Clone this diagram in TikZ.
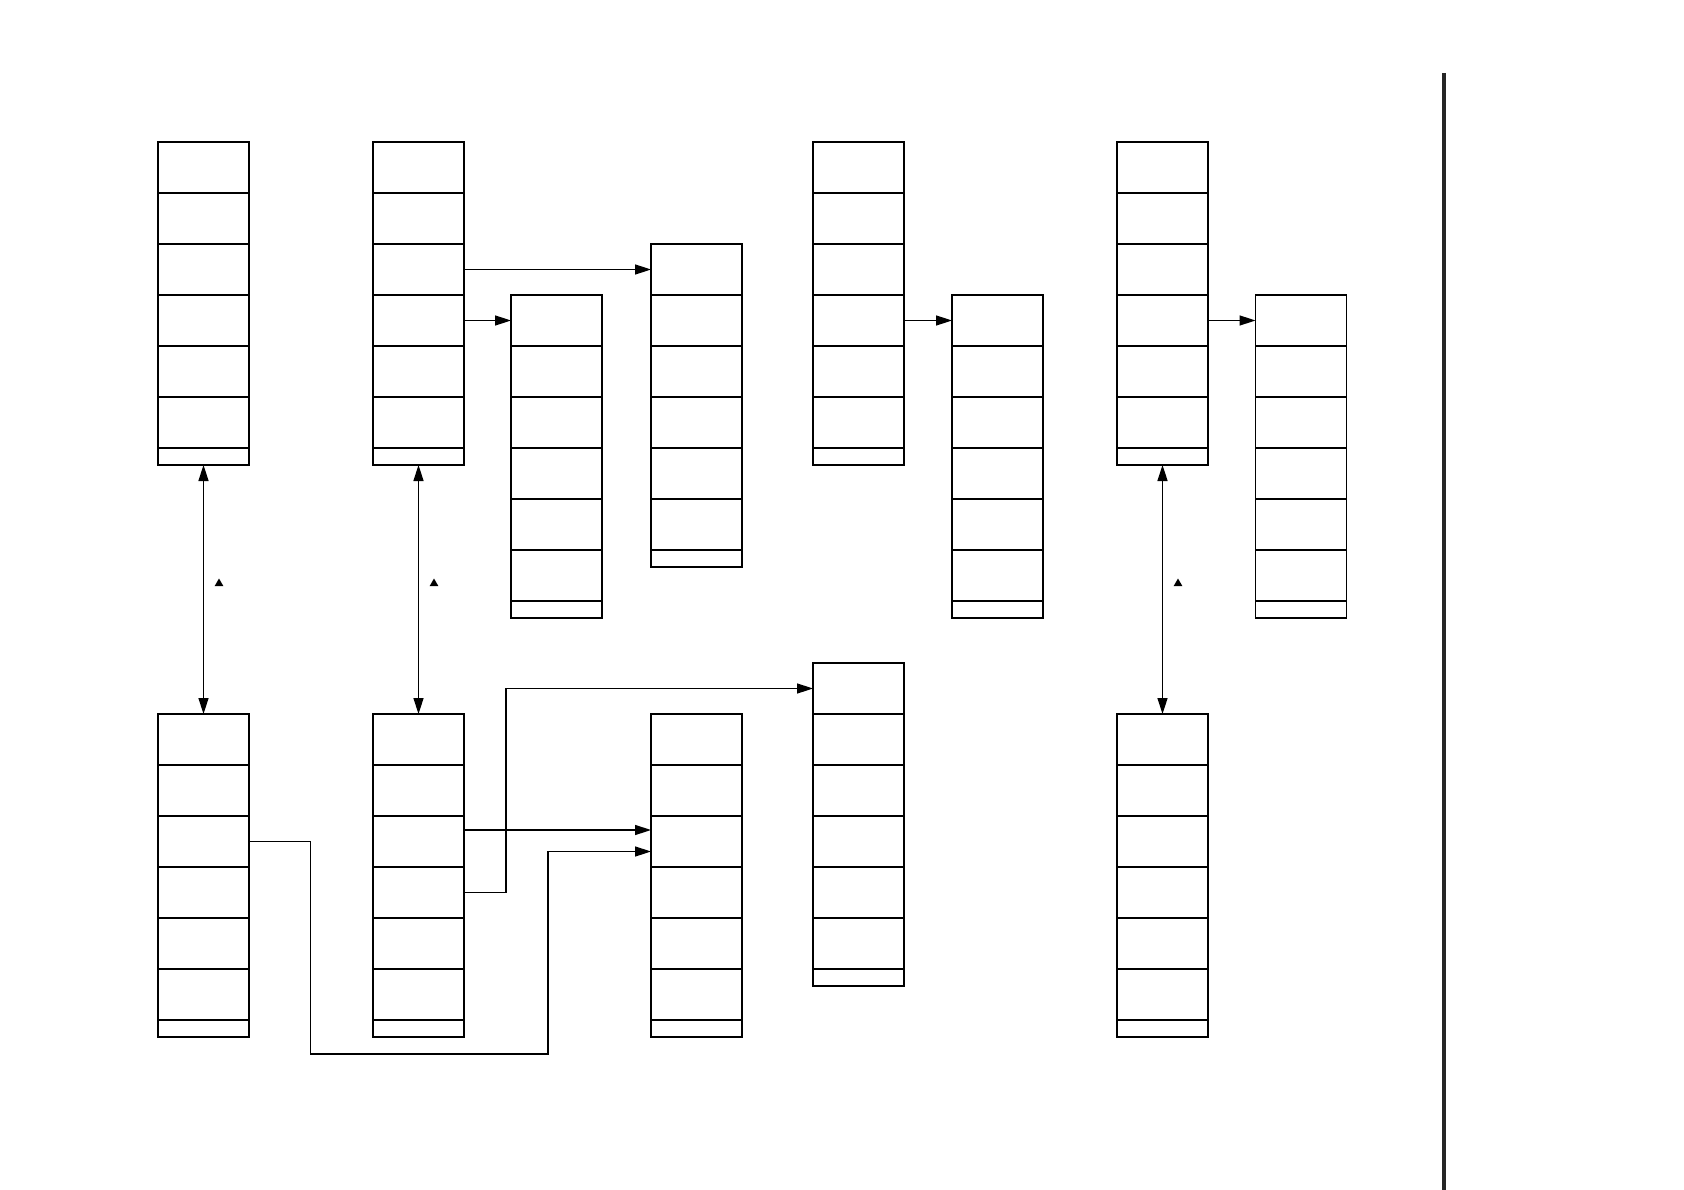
\documentclass[tikz,border=0pt]{standalone}
\usetikzlibrary{arrows.meta,calc,shapes.geometric}
\tikzset{
  membox/.style={draw=black,line width=1.5pt,minimum width=91pt,minimum height=323pt,inner sep=0pt,outer sep=0pt,anchor=north west},
  rowline/.style={draw=black,line width=1.5pt},
  conn/.style={draw=black,line width=1.5pt,-{Triangle[length=16pt,width=10pt]}},
  biconn/.style={draw=black,line width=1.5pt,{Triangle[length=16pt,width=10pt]}-{Triangle[length=16pt,width=10pt]}},
  tri/.style={regular polygon,regular polygon sides=3,fill=black,inner sep=0pt,minimum size=10pt},
  divider/.style={draw=black!85,line width=4pt}
}
\newcommand\mkbox[3]{%
  \node[membox] (#1) at (#2,#3) {};
  \foreach \k in {1,...,6}{
    \draw[rowline] ($(#1.north west)+(0,\k*51)$) -- ($(#1.north east)+(0,\k*51)$);
  }
}
\begin{document}
\begin{tikzpicture}[x=1pt,y=-1pt]
\useasboundingbox (0,0) rectangle (1684,1190);
% top row
\mkbox{A}{158}{142}
\mkbox{B}{373}{142}
\mkbox{C}{511}{295}
\mkbox{D}{651}{244}
\mkbox{E}{813}{142}
\mkbox{F}{952}{295}
\mkbox{G}{1117}{142}
\mkbox{H}{1255.5}{295}
% bottom row
\mkbox{I}{158}{714}
\mkbox{J}{373}{714}
\mkbox{K}{651}{714}
\mkbox{L}{813}{663}
\mkbox{M}{1117}{714}
% top connectors
\draw[conn] ($(B.north east)+(0,127.5)$) -- ($(D.north west)+(0,25.5)$);
\draw[conn] ($(B.north east)+(0,178.5)$) -- ($(C.north west)+(0,25.5)$);
\draw[conn] ($(E.north east)+(0,178.5)$) -- ($(F.north west)+(0,25.5)$);
\draw[conn] ($(G.north east)+(0,178.5)$) -- ($(H.north west)+(0,25.5)$);
% vertical double arrows
\draw[biconn] (A.south) -- (I.north);
\draw[biconn] (B.south) -- (J.north);
\draw[biconn] (G.south) -- (M.north);
% small triangles
\node[tri] (t1) at (219,583.5) {};
\node[tri] (t2) at (434,583.5) {};
\node[tri] (t3) at (1178,583.5) {};
% bottom connectors
\draw[conn] ($(I.north east)+(0,127.5)$) -- (310.5,841.5) -- (310.5,1054) -- (548,1054) -- (548,851.5) -- ($(K.north west)+(0,137.5)$);
\draw[conn] ($(J.north east)+(0,116)$) -- ($(K.north west)+(0,116)$);
\draw[conn] ($(J.north east)+(0,178.5)$) -- (506,892.5) -- (506,688.5) -- ($(L.north west)+(0,25.5)$);
% divider
\coordinate (d1) at (1444,73);
\coordinate (d2) at (1444,1190);
\draw[divider] (d1) -- (d2);
\end{tikzpicture}
\end{document}
